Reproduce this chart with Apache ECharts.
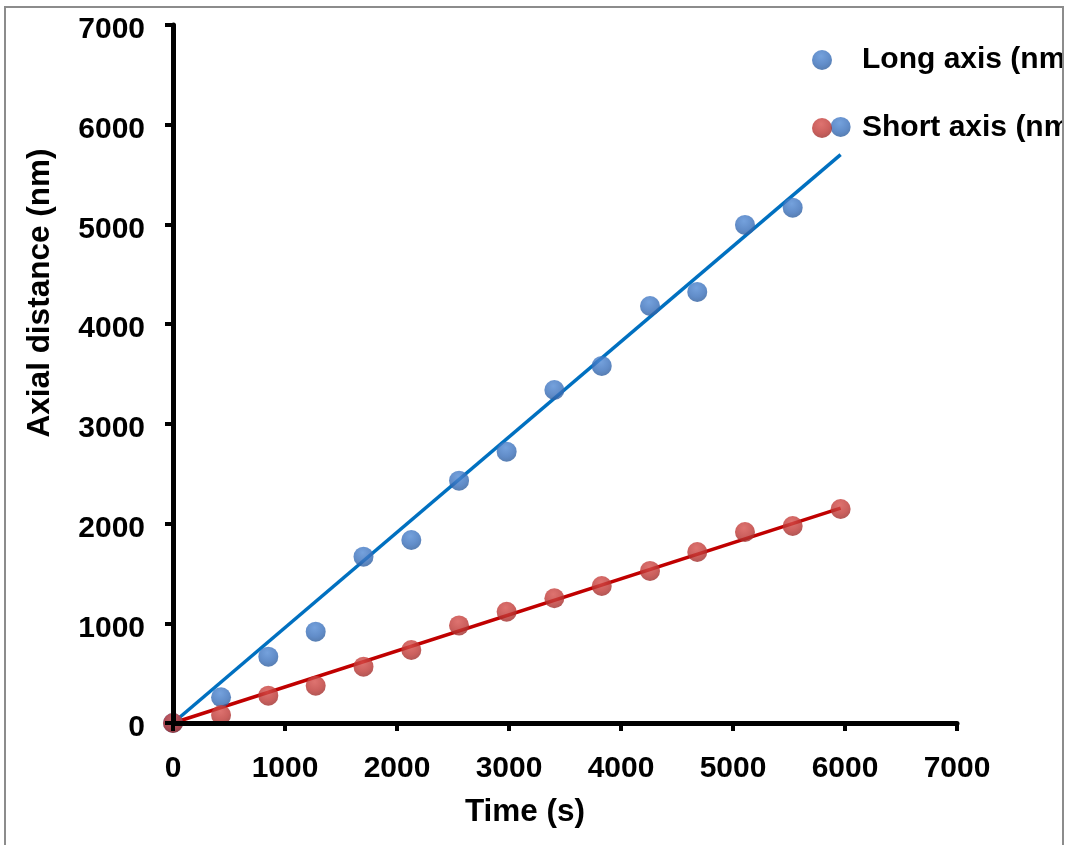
<!DOCTYPE html>
<html>
<head>
<meta charset="utf-8">
<title>Axial distance vs time</title>
<script src="https://cdn.jsdelivr.net/npm/echarts@6/dist/echarts.min.js"></script>
<style>
  html, body { margin: 0; padding: 0; background: #fff; }
  #chart { position: absolute; left: 0; top: 0; width: 1062px; height: 845px; }
  #frame { position: absolute; left: 4px; top: 6px; width: 1060px; height: 900px;
           border: 2px solid #8c8c8c; box-sizing: border-box; pointer-events: none; }
</style>
</head>
<body>
<div id="chart"></div>
<div id="frame"></div>
<script>
// Measurement times (s)
const timeS = [0, 429, 851, 1274, 1701, 2128, 2554, 2979, 3405, 3828, 4259, 4681, 5107, 5533, 5961];
// Long-axis distance (nm)
const longAxis = [0, 258, 665, 916, 1668, 1835, 2430, 2721, 3340, 3581, 4182, 4323, 4995, 5168, 5978];
// Short-axis distance (nm)
const shortAxis = [0, 80, 274, 374, 565, 732, 979, 1116, 1251, 1374, 1525, 1715, 1916, 1976, 2146];
// Linear trend lines through the origin: [time, distance] end points
const longTrend = [[0, 0], [5961, 5700]];
const shortTrend = [[0, 0], [5961, 2155]];
// Axis ticks
const axisMin = 0, axisMax = 7000, axisStep = 1000;

const seriesNames = ['Long axis (nm)', 'Short axis (nm)'];
const FONT = '"Liberation Sans", Arial, sans-serif';

const pair = (xs, ys) => xs.map((x, i) => [x, ys[i]]);

const blueBall = {
  type: 'radial', x: 0.45, y: 0.3, r: 0.75,
  colorStops: [{ offset: 0, color: '#528ad4' }, { offset: 0.6, color: '#3a70bb' }, { offset: 1, color: '#2b5a99' }]
};
const redBall = {
  type: 'radial', x: 0.45, y: 0.3, r: 0.75,
  colorStops: [{ offset: 0, color: '#d6504c' }, { offset: 0.6, color: '#be3835' }, { offset: 1, color: '#992a28' }]
};

const axisCommon = {
  type: 'value', min: axisMin, max: axisMax, interval: axisStep, z: 10,
  splitLine: { show: false },
  axisLine: { show: true, onZero: false, lineStyle: { color: '#000', width: 5 } },
  axisTick: { show: true, inside: false, length: 8, lineStyle: { color: '#000', width: 4 } },
  axisLabel: { color: '#000', fontFamily: FONT, fontWeight: 'bold', fontSize: 30,
               formatter: v => String(v) }
};

const chart = echarts.init(document.getElementById('chart'));
chart.setOption({
  animation: false,
  backgroundColor: '#fff',
  grid: { left: 173, right: 105, top: 25, bottom: 122, containLabel: false },
  xAxis: Object.assign({}, axisCommon, { axisLabel: Object.assign({}, axisCommon.axisLabel, { margin: 31 }) }),
  yAxis: Object.assign({}, axisCommon, { axisLabel: Object.assign({}, axisCommon.axisLabel,
          { margin: 28, verticalAlign: 'top', lineHeight: 10 }) }),
  legend: {
    data: seriesNames,
    orient: 'vertical',
    left: 812, top: 45,
    padding: 0,
    itemWidth: 20, itemHeight: 20, itemGap: 38,
    icon: 'circle',
    textStyle: { color: '#000', fontFamily: FONT, fontWeight: 'bold', fontSize: 30,
                 lineHeight: 30, padding: [0, 0, 0, 25] }
  },
  graphic: [
    { type: 'text', x: 40, y: 293, rotation: Math.PI / 2,
      style: { text: 'Axial distance (nm)', font: 'bold 31.5px ' + FONT, fill: '#000',
               align: 'center', verticalAlign: 'middle' } },
    { type: 'text', x: 525, y: 812,
      style: { text: 'Time (s)', font: 'bold 31.5px ' + FONT, fill: '#000',
               align: 'center', verticalAlign: 'middle' } }
  ],
  series: [
    { name: 'Long axis trend', type: 'line', data: longTrend, symbol: 'none', z: 2,
      lineStyle: { color: '#0070c0', width: 3.5 } },
    { name: 'Short axis trend', type: 'line', data: shortTrend, symbol: 'none', z: 2,
      lineStyle: { color: '#c00000', width: 3.5 } },
    { name: seriesNames[0], type: 'scatter', data: pair(timeS, longAxis), symbolSize: 20, z: 3,
      itemStyle: { color: blueBall } },
    { name: seriesNames[1], type: 'scatter', data: pair(timeS, shortAxis), symbolSize: 20, z: 4,
      itemStyle: { color: redBall } }
  ]
});
</script>
</body>
</html>
